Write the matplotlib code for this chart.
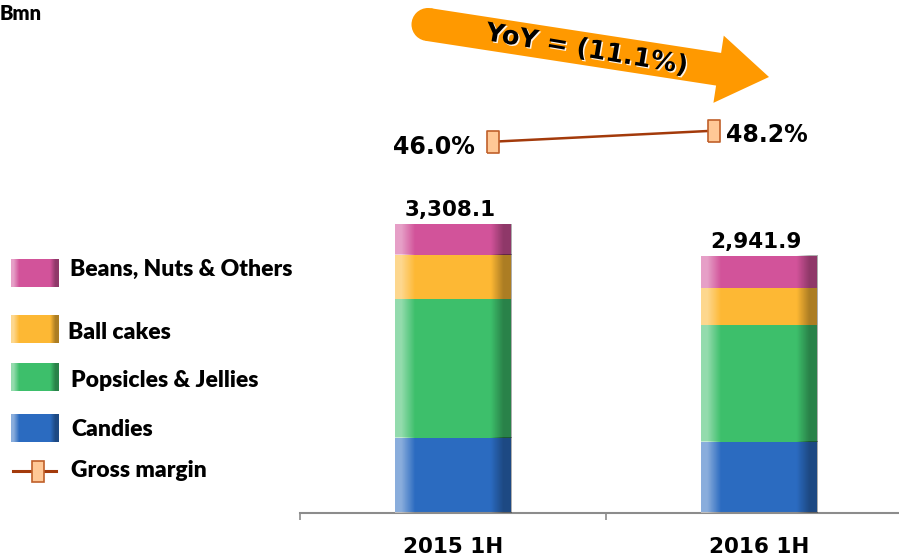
import numpy as np
import matplotlib
matplotlib.use("Agg")
import matplotlib.pyplot as plt
import matplotlib.patches as mpatches
import matplotlib.patheffects as pe

# data
periods = ["2015 1H", "2016 1H"]
segments = ["Candies", "Popsicles & Jellies", "Ball cakes", "Beans, Nuts & Others"]
candies = [862, 816]
popsicles = [1588, 1339]
ball_cakes = [504, 420]
beans = [354.1, 366.9]
totals = [3308.1, 2941.9]
gross_margin = [46.0, 48.2]
yoy_text = "YoY = (11.1%)"

seg_colors = ["#2B6BC0", "#3DBF6B", "#FDB834", "#D2539A"]
line_color = "#A33A0B"
marker_face = "#FFC896"
marker_edge = "#C0602A"
bold_font = "DejaVu Sans"
legend_font = "Lato"

W, H = 899, 557
fig = plt.figure(figsize=(W / 100, H / 100), dpi=100)


def gloss(n=120):
    t = np.linspace(0, 1, n)
    img = np.zeros((1, n, 4))
    left = np.where(t < 0.05, 0.45, np.clip(0.45 * (0.17 - t) / 0.12, 0, 0.45))
    right = np.where(t < 0.82, 0, np.where(t < 0.93, 0.32 * (t - 0.82) / 0.11, 0.32))
    img[0, :, :3] = np.where(left[:, None] > 0, 1.0, 0.0)
    img[0, :, 3] = left + right
    return img


# main bar axes
ax = fig.add_axes([300 / W, (H - 513) / H, 612 / W, 513 / H])
x = np.arange(len(periods))
bw = 0.38
bottom = np.zeros(len(periods))
for vals, col in zip([candies, popsicles, ball_cakes, beans], seg_colors):
    ax.bar(x, vals, bw, bottom=bottom, color=col, zorder=2)
    for xi, b, v in zip(x, bottom, vals):
        ax.imshow(gloss(), extent=[xi - bw / 2, xi + bw / 2, b, b + v],
                  aspect="auto", interpolation="bilinear", zorder=3)
    bottom += np.array(vals)

for xi, tot in zip(x, totals):
    ax.annotate(f"{tot:,.1f}", (xi, tot), xytext=(-2, 3), textcoords="offset points",
                ha="center", va="bottom", fontsize=15.5, fontweight="bold",
                family=bold_font)

ax.set_xlim(-0.5, 1.5)
ax.set_ylim(0, 5872)
for s in ["top", "left", "right"]:
    ax.spines[s].set_visible(False)
ax.spines["bottom"].set_color("#8C8C8C")
ax.spines["bottom"].set_linewidth(1.5)
ax.set_yticks([])
ax.set_xticks([-0.5, 0.5, 1.5])
ax.set_xticklabels([])
ax.tick_params(axis="x", which="major", length=5, width=1.2, color="#8C8C8C")
ax.set_xticks(x, minor=True)
ax.set_xticklabels(periods, minor=True, fontsize=15.5, fontweight="bold",
                   family=bold_font)
ax.tick_params(axis="x", which="minor", length=0, pad=17)

# gross margin line
ax2 = fig.add_axes(ax.get_position(), facecolor="none")
ax2.set_xlim(-0.873, 1.896)
ax2.set_ylim(-28.26, 74.34)
ax2.axis("off")
rect_marker = [(-1, -2), (1, -2), (1, 2), (-1, 2), (-1, -2)]
ax2.plot(x, gross_margin, color=line_color, lw=1.8, marker=rect_marker,
         markersize=16, markerfacecolor=marker_face, markeredgecolor=marker_edge,
         markeredgewidth=1.2, zorder=3)
ax2.annotate(f"{gross_margin[0]:.1f}%", (x[0], gross_margin[0]), xytext=(-13, -4),
             textcoords="offset points", ha="right", va="center", fontsize=17,
             fontweight="bold", family=bold_font)
ax2.annotate(f"{gross_margin[1]:.1f}%", (x[1], gross_margin[1]), xytext=(9, -3),
             textcoords="offset points", ha="left", va="center", fontsize=17,
             fontweight="bold", family=bold_font)

# overlay in pixel coordinates for legend / arrow / unit
ov = fig.add_axes([0, 0, 1, 1], facecolor="none")
ov.set_xlim(0, W)
ov.set_ylim(H, 0)
ov.axis("off")

ov.text(0, 20, "Bmn", fontsize=14.5, fontweight="heavy", family=legend_font,
        ha="left", va="baseline")

# orange arrow
ov.add_patch(mpatches.FancyArrow(428, 24.5, 341, 52.5, width=33, head_width=68,
                                 head_length=51, length_includes_head=True,
                                 color="#FF9900", lw=0, zorder=2))
ov.add_patch(mpatches.Circle((428, 24.5), 16.5, color="#FF9900", lw=0, zorder=2))
ov.text(587, 50, yoy_text, rotation=-9.5, rotation_mode="anchor", ha="center",
        va="center", fontsize=18.5, fontweight="bold", family=bold_font, zorder=3,
        path_effects=[pe.SimplePatchShadow(offset=(1, -1), shadow_rgbFace="white",
                                           alpha=0.9), pe.Normal()])

# legend
leg_items = [("Beans, Nuts & Others", seg_colors[3], 259, 70, 276),
             ("Ball cakes", seg_colors[2], 315, 68, 339),
             ("Popsicles & Jellies", seg_colors[1], 363, 71, 387),
             ("Candies", seg_colors[0], 414, 71, 436)]
for label, col, y0, tx, ty in leg_items:
    ov.add_patch(mpatches.Rectangle((11, y0), 48, 28, color=col, lw=0, zorder=2))
    ov.imshow(gloss(), extent=[11, 59, y0 + 28, y0], aspect="auto",
              interpolation="bilinear", zorder=3)
    ov.text(tx, ty, label, fontsize=16.5, fontweight="heavy", family=legend_font,
            ha="left", va="baseline")
ov.plot([13, 56], [471, 471], color=line_color, lw=2.2, zorder=2)
ov.add_patch(mpatches.Rectangle((32, 461), 12, 21, facecolor=marker_face,
                                edgecolor=marker_edge, lw=1.2, zorder=3))
ov.text(71, 477, "Gross margin", fontsize=16.5, fontweight="heavy", family=legend_font,
        ha="left", va="baseline")
ov.set_xlim(0, W)
ov.set_ylim(H, 0)

fig.savefig("out.png", dpi=100)
